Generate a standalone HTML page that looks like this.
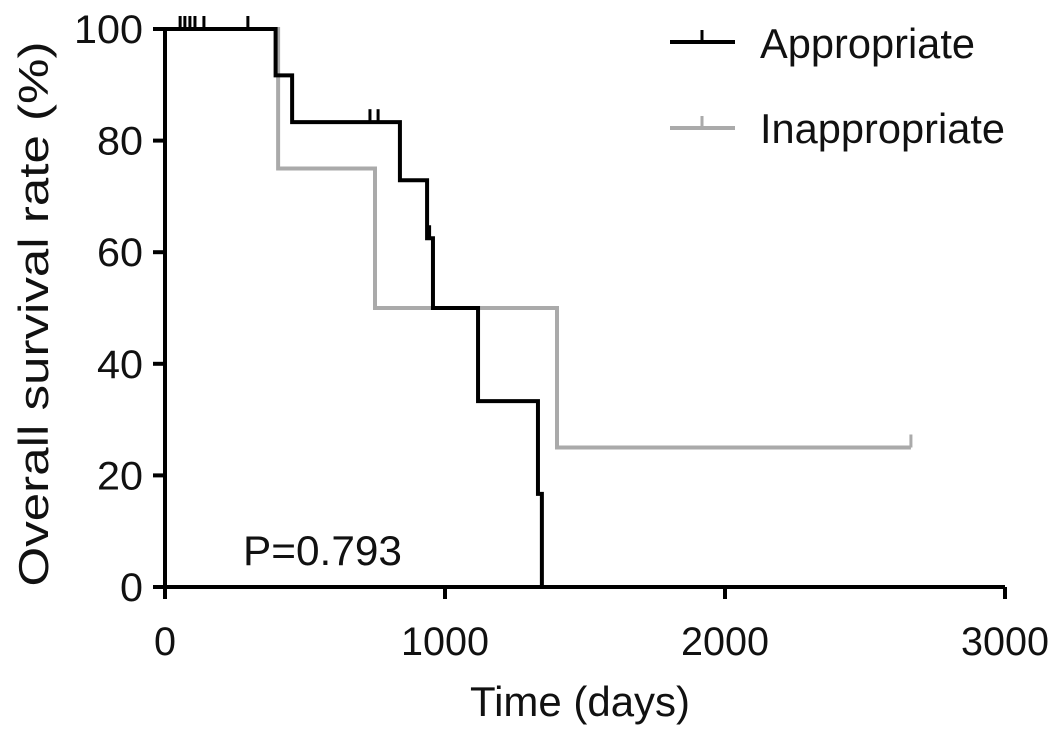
<!DOCTYPE html>
<html><head><meta charset="utf-8"><style>
html,body{margin:0;padding:0;background:#fff}
svg{display:block;font-family:"Liberation Sans",Arial,sans-serif}
</style></head><body>
<svg id="chart" width="1063" height="738" viewBox="0 0 1063 738">
<g id="axes"></g><g id="series"></g>
<text x="580" y="716" font-size="42" text-anchor="middle" textLength="220" lengthAdjust="spacingAndGlyphs" fill="#111">Time (days)</text>
<text transform="translate(48,314) rotate(-90)" font-size="42" text-anchor="middle" textLength="545" lengthAdjust="spacingAndGlyphs" fill="#111">Overall survival rate (%)</text>
<text x="243" y="565" font-size="42" textLength="159" lengthAdjust="spacingAndGlyphs" fill="#111">P=0.793</text>
<g>
<line x1="670" y1="42" x2="735" y2="42" stroke="#000" stroke-width="4"/><line x1="702" y1="42" x2="702" y2="30" stroke="#000" stroke-width="3"/>
<text x="760" y="58" font-size="42" textLength="215" lengthAdjust="spacingAndGlyphs" fill="#111">Appropriate</text>
<line x1="670" y1="128" x2="735" y2="128" stroke="#aaa" stroke-width="4"/><line x1="702" y1="128" x2="702" y2="116" stroke="#aaa" stroke-width="3"/>
<text x="760" y="143" font-size="42" textLength="245" lengthAdjust="spacingAndGlyphs" fill="#111">Inappropriate</text>
</g>
</svg>
<script>
const xTicks=[0,1000,2000,3000];
const yTicks=[0,20,40,60,80,100];
const apTimes=[0,395,454,839,936,957,1118,1332,1346];
const apSurv=[100,91.7,83.3,72.9,62.5,50,33.3,16.7,0];
const apCensor=[54,71,89,107,139,296,732,761,945];
const inTimes=[0,404,750,1400];
const inSurv=[100,75,50,25];
const inEnd=2664;
const inCensor=[2664];
const X=t=>165+t*0.28, Y=v=>587-v*5.58;
const ns="http://www.w3.org/2000/svg";
function mk(tag,attrs,parent){const e=document.createElementNS(ns,tag);for(const k in attrs)e.setAttribute(k,attrs[k]);parent.appendChild(e);return e;}
const ax=document.getElementById('axes'), se=document.getElementById('series');
let a=mk('line',{x1:165,y1:Y(0),x2:1005,y2:Y(0),stroke:'#000','stroke-width':4},ax);

a=mk('line',{x1:165,y1:Y(0)+2,x2:165,y2:Y(100),stroke:'#000','stroke-width':4},ax);

xTicks.forEach(t=>{mk('line',{x1:X(t),y1:Y(0),x2:X(t),y2:Y(0)+12,stroke:'#000','stroke-width':4},ax);
 const s=String(t);
 const tx=mk('text',{x:X(t),y:655,'font-size':40,'text-anchor':'middle',fill:'#111',textLength:22*s.length,lengthAdjust:'spacingAndGlyphs'},ax);tx.textContent=s;
 });
yTicks.forEach(v=>{mk('line',{x1:153,y1:Y(v),x2:165,y2:Y(v),stroke:'#000','stroke-width':4},ax);
 const s=String(v);
 const tx=mk('text',{x:143,y:Y(v)+14,'font-size':40,'text-anchor':'end',fill:'#111',textLength:23*s.length,lengthAdjust:'spacingAndGlyphs'},ax);tx.textContent=s;
 });
function survAt(times,surv,t){let s=surv[0];for(let i=0;i<times.length;i++)if(times[i]<=t)s=surv[i];return s;}
function curve(times,surv,end,color,name,censors){
 let d='M'+X(times[0])+','+Y(surv[0]);
 for(let i=1;i<times.length;i++){d+=' H'+X(times[i])+' V'+Y(surv[i]);}
 if(end!=null)d+=' H'+X(end);
 const p=mk('path',{d:d,fill:'none',stroke:color,'stroke-width':4},se);
 
 censors.forEach(c=>{const v=survAt(times,surv,c);const l=mk('line',{x1:X(c),y1:Y(v),x2:X(c),y2:Y(v)-13,stroke:color,'stroke-width':3},se);
  });
}
curve(inTimes,inSurv,inEnd,'#aaa','inappropriate-curve',inCensor);
curve(apTimes,apSurv,null,'#000','appropriate-curve',apCensor);
</script>
</body></html>
